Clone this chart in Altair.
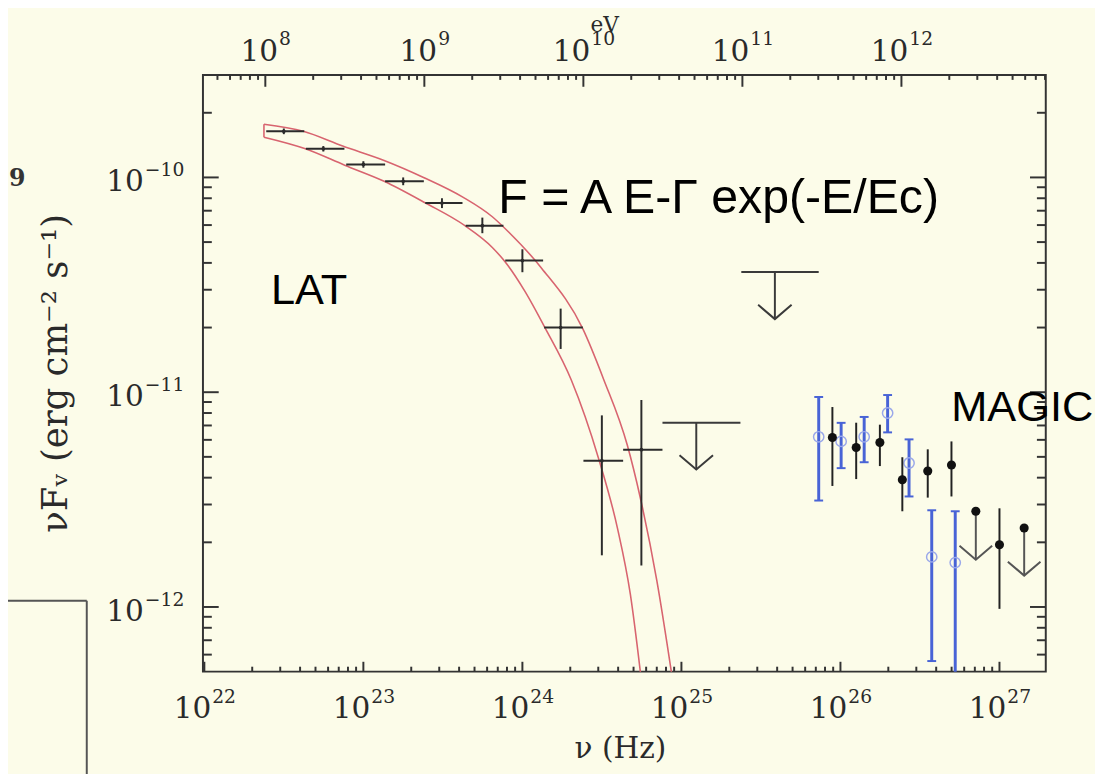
import altair as alt
import pandas as pd

# ---------------- styling constants ----------------
BG = "#fcfce9"
INK = "#2b2b2b"
RED = "#d8646f"
BLUE = "#4863d6"
LIGHTBLUE = "#9aa8ea"
SERIF = "DejaVu Serif"
SANS = "Liberation Sans"
W, H = 856, 606

H_EV = 4.135667e-15  # Planck constant in eV s (for the eV axis on top)
NU_DOMAIN = [9.8e21, 1.955e27]
F_DOMAIN = [5.0e-13, 3.0e-10]

# ---------------- data ----------------
# Fermi-LAT spectral points
lat_nu = [3.16e22, 5.6e22, 1.0e23, 1.78e23, 3.12e23, 5.6e23, 1.0e24, 1.74e24, 3.16e24, 5.6e24]
lat_nu_lo = [2.45e22, 4.35e22, 7.8e22, 1.37e23, 2.45e23, 4.4e23, 7.8e23, 1.37e24, 2.42e24, 4.3e24]
lat_nu_hi = [4.25e22, 7.6e22, 1.37e23, 2.4e23, 4.2e23, 7.6e23, 1.35e24, 2.4e24, 4.3e24, 7.6e24]
lat_f = [1.64e-10, 1.36e-10, 1.15e-10, 9.6e-11, 7.6e-11, 5.96e-11, 4.1e-11, 2.0e-11, 4.8e-12, 5.4e-12]
lat_f_lo = [1.59e-10, 1.32e-10, 1.11e-10, 9.2e-11, 7.2e-11, 5.5e-11, 3.62e-11, 1.59e-11, 1.74e-12, 1.56e-12]
lat_f_hi = [1.69e-10, 1.40e-10, 1.19e-10, 1.0e-10, 8.0e-11, 6.5e-11, 4.63e-11, 2.45e-11, 7.8e-12, 9.2e-12]

# LAT upper limits
latul_nu = [1.24e25, 3.87e25]
latul_nu_lo = [7.6e24, 2.38e25]
latul_nu_hi = [2.35e25, 7.3e25]
latul_f = [7.2e-12, 3.63e-11]
latul_tip = [4.37e-12, 2.19e-11]

# Model band (power law with exponential cutoff), two edges
band_up_nu = [2.37e22, 4.19e22, 7.41e22, 1.35e23, 2.39e23, 4.22e23, 6.47e23, 8.25e23, 1.32e24,
              2.40e24, 3.24e24, 4.57e24, 5.49e24, 7.0e24, 8.91e24]
band_up_f = [1.77e-10, 1.64e-10, 1.40e-10, 1.20e-10, 1.00e-10, 8.1e-11, 6.56e-11, 5.54e-11, 3.78e-11,
             1.97e-11, 1.15e-11, 5.66e-12, 3.27e-12, 1.33e-12, 4.3e-13]
band_lo_nu = [2.37e22, 4.32e22, 7.63e22, 1.35e23, 2.46e23, 4.35e23, 6.47e23, 7.8e23, 1.04e24,
              1.38e24, 2.03e24, 3.02e24, 3.96e24, 4.77e24, 5.65e24]
band_lo_f = [1.54e-10, 1.36e-10, 1.14e-10, 9.6e-11, 7.6e-11, 5.96e-11, 4.72e-11, 4.04e-11, 2.94e-11,
             2.01e-11, 1.14e-11, 4.89e-12, 2.33e-12, 1.15e-12, 4.3e-13]

# MAGIC (black filled points)
magic_nu = [8.9e25, 1.256e26, 1.77e26, 2.45e26, 3.54e26, 4.99e26, 1.0e27]
magic_f = [6.15e-12, 5.53e-12, 5.83e-12, 3.91e-12, 4.3e-12, 4.58e-12, 1.95e-12]
magic_f_lo = [3.66e-12, 3.94e-12, 4.53e-12, 2.79e-12, 3.23e-12, 3.27e-12, 9.8e-13]
magic_f_hi = [8.53e-12, 7.21e-12, 7.06e-12, 4.98e-12, 5.42e-12, 5.9e-12, 2.88e-12]
magicul_nu = [7.1e26, 1.43e27]
magicul_f = [2.79e-12, 2.33e-12]
magicul_tip = [1.66e-12, 1.40e-12]

# second MAGIC data set (blue open points)
blue_nu = [7.3e25, 1.01e26, 1.41e26, 1.98e26, 2.7e26, 3.75e26, 5.27e26]
blue_f = [6.2e-12, 5.9e-12, 6.2e-12, 8.0e-12, 4.68e-12, 1.71e-12, 1.61e-12]
blue_f_lo = [3.13e-12, 4.43e-12, 4.72e-12, 6.5e-12, 3.27e-12, 5.6e-13, 4.0e-13]
blue_f_hi = [9.5e-12, 7.2e-12, 7.67e-12, 9.7e-12, 6.03e-12, 2.82e-12, 2.79e-12]

# axis ticks and labels
hz_major = [1e22, 1e23, 1e24, 1e25, 1e26, 1e27]
hz_exp = ["22", "23", "24", "25", "26", "27"]
ev_major = [1e8, 1e9, 1e10, 1e11, 1e12]
ev_exp = ["8", "9", "10", "11", "12"]
f_major = [1e-12, 1e-11, 1e-10]
f_exp = ["\u221212", "\u221211", "\u221210"]
mult = [2, 3, 4, 5, 6, 7, 8, 9]

texts = {
    "lat": "LAT",
    "formula": "F = A E-\u0393 exp(-E/Ec)",
    "magic": "MAGIC",
    "xtitle": "\u03bd  (Hz)",
    "ytitle": "\u03bdF\u1d65 (erg cm\u207b\u00b2 s\u207b\u00b9)",
    "toptitle": "eV",
    "edge": "9",
}

# ---------------- helpers ----------------
xs = alt.Scale(type="log", domain=NU_DOMAIN, nice=False)
ys = alt.Scale(type="log", domain=F_DOMAIN, nice=False)


def X(f):
    return alt.X(f"{f}:Q", scale=xs, axis=None)


def Y(f):
    return alt.Y(f"{f}:Q", scale=ys, axis=None)


def inside(vals, lo, hi):
    return [v for v in vals if lo < v < hi]


one = pd.DataFrame({"_": [0]})


def ann(text, x, y, **kw):
    return alt.Chart(one).mark_text(text=text, **kw).encode(x=alt.value(x), y=alt.value(y))


VPATH = "M-1,-0.85L0,0L1,-0.85"

layers = []

# ---- model band ----
up_df = pd.DataFrame({"nu": band_up_nu, "f": band_up_f})
lo_df = pd.DataFrame({"nu": band_lo_nu, "f": band_lo_f})
for d in (up_df, lo_df):
    layers.append(alt.Chart(d).mark_line(color=RED, strokeWidth=1.6, interpolate="monotone", clip=True)
                  .encode(x=X("nu"), y=Y("f")))
close_df = pd.DataFrame({"nu": [band_up_nu[0]], "f1": [band_up_f[0]], "f2": [band_lo_f[0]]})
layers.append(alt.Chart(close_df).mark_rule(color=RED, strokeWidth=1.6)
              .encode(x=X("nu"), y=Y("f1"), y2=alt.Y2("f2")))

# ---- LAT points ----
lat_df = pd.DataFrame({"nu": lat_nu, "lo": lat_nu_lo, "hi": lat_nu_hi,
                       "f": lat_f, "flo": lat_f_lo, "fhi": lat_f_hi})
layers.append(alt.Chart(lat_df).mark_rule(color=INK, strokeWidth=2)
              .encode(x=X("lo"), x2=alt.X2("hi"), y=Y("f")))
layers.append(alt.Chart(lat_df).mark_rule(color=INK, strokeWidth=2)
              .encode(x=X("nu"), y=Y("flo"), y2=alt.Y2("fhi")))
layers.append(alt.Chart(lat_df).mark_point(filled=True, size=14, color=INK, opacity=1)
              .encode(x=X("nu"), y=Y("f")))

# ---- LAT upper limits ----
latul_df = pd.DataFrame({"nu": latul_nu, "lo": latul_nu_lo, "hi": latul_nu_hi,
                         "f": latul_f, "tip": latul_tip})
layers.append(alt.Chart(latul_df).mark_rule(color="#3a3a3a", strokeWidth=2)
              .encode(x=X("lo"), x2=alt.X2("hi"), y=Y("f")))
layers.append(alt.Chart(latul_df).mark_rule(color="#3a3a3a", strokeWidth=2)
              .encode(x=X("nu"), y=Y("f"), y2=alt.Y2("tip")))
layers.append(alt.Chart(latul_df).mark_point(shape=VPATH, size=1156, filled=False, color="#3a3a3a",
                                             strokeWidth=2, opacity=1)
              .encode(x=X("nu"), y=Y("tip")))

# ---- blue MAGIC points ----
blue_df = pd.DataFrame({"nu": blue_nu, "f": blue_f, "flo": blue_f_lo, "fhi": blue_f_hi})
layers.append(alt.Chart(blue_df).mark_rule(color=BLUE, strokeWidth=3, clip=True)
              .encode(x=X("nu"), y=Y("flo"), y2=alt.Y2("fhi")))
layers.append(alt.Chart(blue_df).mark_tick(color=BLUE, orient="horizontal", size=9, thickness=2, opacity=1)
              .encode(x=X("nu"), y=Y("fhi")))
layers.append(alt.Chart(blue_df).transform_filter(f"datum.flo >= {F_DOMAIN[0]}")
              .mark_tick(color=BLUE, orient="horizontal", size=9, thickness=2, opacity=1)
              .encode(x=X("nu"), y=Y("flo")))
layers.append(alt.Chart(blue_df).mark_point(shape="circle", filled=False, size=110, color=LIGHTBLUE,
                                            strokeWidth=1.5, opacity=1)
              .encode(x=X("nu"), y=Y("f")))

# ---- black MAGIC points ----
magic_df = pd.DataFrame({"nu": magic_nu, "f": magic_f, "flo": magic_f_lo, "fhi": magic_f_hi})
layers.append(alt.Chart(magic_df).mark_rule(color="#222222", strokeWidth=2)
              .encode(x=X("nu"), y=Y("flo"), y2=alt.Y2("fhi")))
layers.append(alt.Chart(magic_df).mark_point(filled=True, size=85, color="#111111", opacity=1)
              .encode(x=X("nu"), y=Y("f")))
mul_df = pd.DataFrame({"nu": magicul_nu, "f": magicul_f, "tip": magicul_tip})
layers.append(alt.Chart(mul_df).mark_rule(color="#555555", strokeWidth=2)
              .encode(x=X("nu"), y=Y("f"), y2=alt.Y2("tip")))
layers.append(alt.Chart(mul_df).mark_point(shape=VPATH, size=1100, filled=False, color="#555555",
                                           strokeWidth=2, opacity=1)
              .encode(x=X("nu"), y=Y("tip")))
layers.append(alt.Chart(mul_df).mark_point(filled=True, size=85, color="#111111", opacity=1)
              .encode(x=X("nu"), y=Y("f")))

# ---------------- axes drawn as inward ticks ----------------
hz_minor = inside([k * 10.0 ** n for n in range(21, 28) for k in mult], *NU_DOMAIN)
ev_lo, ev_hi = NU_DOMAIN[0] * H_EV, NU_DOMAIN[1] * H_EV
ev_minor = inside([k * 10.0 ** n for n in range(7, 13) for k in mult], ev_lo, ev_hi)
f_minor = inside([k * 10.0 ** n for n in range(-13, -9) for k in mult], *F_DOMAIN)

TICK = dict(color="#333333", strokeWidth=2)


def xticks(vals, y0, y1):
    d = pd.DataFrame({"v": vals})
    return alt.Chart(d).mark_rule(**TICK).encode(x=X("v"), y=alt.value(y0), y2=alt.value(y1))


def yticks(vals, x0, x1):
    d = pd.DataFrame({"v": vals})
    return alt.Chart(d).mark_rule(**TICK).encode(y=Y("v"), x=alt.value(x0), x2=alt.value(x1))


layers += [
    xticks(hz_major, H, H - 10), xticks(hz_minor, H, H - 5),
    xticks([e / H_EV for e in ev_major], 0, 12), xticks([e / H_EV for e in ev_minor], 0, 5),
    yticks(f_major, 0, 16), yticks(f_minor, 0, 9),
    yticks(f_major, W, W - 16), yticks(f_minor, W, W - 9),
]

# ---------------- tick labels ----------------
LBL = dict(font=SERIF, color="#2a2a2a", baseline="alphabetic")
bot_df = pd.DataFrame({"v": hz_major, "e": hz_exp})
top_df = pd.DataFrame({"v": [e / H_EV for e in ev_major], "e": ev_exp})
left_df = pd.DataFrame({"v": f_major, "e": f_exp})

one_digit = "length(datum.e) == 1"
two_digit = "length(datum.e) == 2"

layers += [
    # bottom (Hz)
    alt.Chart(bot_df).mark_text(text="10", align="right", dx=7, fontSize=30, **LBL)
    .encode(x=X("v"), y=alt.value(H + 47)),
    alt.Chart(bot_df).mark_text(align="left", dx=8, fontSize=19, **LBL)
    .encode(x=X("v"), y=alt.value(H + 32), text="e:N"),
    # top (eV)
    alt.Chart(top_df).transform_filter(two_digit)
    .mark_text(text="10", align="right", dx=7, fontSize=30, **LBL)
    .encode(x=X("v"), y=alt.value(-14)),
    alt.Chart(top_df).transform_filter(one_digit)
    .mark_text(text="10", align="right", dx=13, fontSize=30, **LBL)
    .encode(x=X("v"), y=alt.value(-14)),
    alt.Chart(top_df).transform_filter(two_digit)
    .mark_text(align="left", dx=8, fontSize=19, **LBL)
    .encode(x=X("v"), y=alt.value(-30), text="e:N"),
    alt.Chart(top_df).transform_filter(one_digit)
    .mark_text(align="left", dx=14, fontSize=19, **LBL)
    .encode(x=X("v"), y=alt.value(-30), text="e:N"),
    # left
    alt.Chart(left_df).mark_text(text="10", align="right", dy=14, fontSize=30, **LBL)
    .encode(x=alt.value(-60), y=Y("v")),
    alt.Chart(left_df).mark_text(align="left", dy=-1, fontSize=19, **LBL)
    .encode(x=alt.value(-59), y=Y("v"), text="e:N"),
]

# ---------------- titles and annotations ----------------
layers += [
    ann(texts["xtitle"], 424, H + 88, font=SERIF, fontSize=30, align="center", baseline="alphabetic",
        color="#2a2a2a"),
    ann(texts["toptitle"], 408, -44, font=SERIF, fontSize=22, align="center", baseline="alphabetic",
        color="#2a2a2a"),
    ann(texts["ytitle"], -138, 303, font=SERIF, fontSize=36, align="center", baseline="alphabetic",
        angle=270, color="#2a2a2a"),
    ann(texts["lat"], 69, 233, font=SANS, fontSize=44, align="left", baseline="alphabetic", color="#000000"),
    ann(texts["formula"], 300, 140, font=SANS, fontSize=49, align="left", baseline="alphabetic",
        color="#000000"),
    ann(texts["magic"], 760, 351, font=SANS, fontSize=44, align="left", baseline="alphabetic",
        color="#000000"),
    ann(texts["edge"], -197, 113, font=SERIF, fontSize=24, fontWeight="bold", align="left",
        baseline="alphabetic", color="#333333"),
]

# partial frame of a neighbouring panel at the lower left
edge_df = pd.DataFrame({"_": [0]})
layers += [
    alt.Chart(edge_df).mark_rule(color="#555555", strokeWidth=2)
    .encode(x=alt.value(-200), x2=alt.value(-118), y=alt.value(534)),
    alt.Chart(edge_df).mark_rule(color="#555555", strokeWidth=2)
    .encode(x=alt.value(-118), y=alt.value(534), y2=alt.value(720)),
]

chart = (
    alt.layer(*layers)
    .properties(
        width=W,
        height=H,
        padding={"left": 198, "top": 62, "right": 50, "bottom": 100},
        autosize=alt.AutoSizeParams(type="none"),
        background=BG,
    )
    .configure_view(stroke="#333333", strokeWidth=2)
)

chart.save("out.html", embed_options={"renderer": "svg", "actions": False})
